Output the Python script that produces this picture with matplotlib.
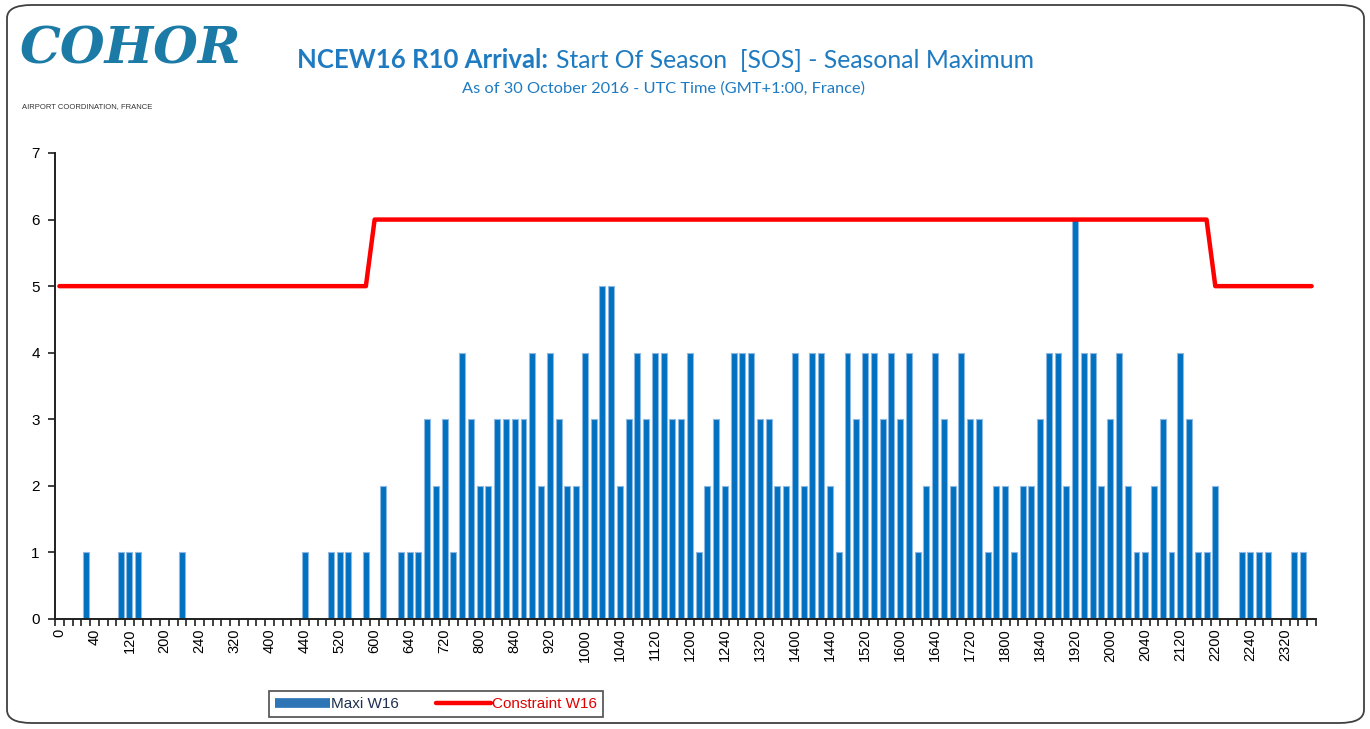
import matplotlib
matplotlib.use("Agg")
import matplotlib.pyplot as plt
from matplotlib.lines import Line2D
from matplotlib.patches import FancyBboxPatch
import numpy as np

# ---- data (one value per 10-minute slot, 00:00 .. 23:50 UTC) ----
maxi_w16 = [
    0, 0, 0, 1, 0, 0, 0, 1, 1, 1, 0, 0, 0, 0, 1, 0, 0, 0, 0, 0, 0, 0, 0, 0,   # 0000-0350
    0, 0, 0, 0, 1, 0, 0, 1, 1, 1, 0, 1, 0, 2, 0, 1, 1, 1, 3, 2, 3, 1, 4, 3,   # 0400-0750
    2, 2, 3, 3, 3, 3, 4, 2, 4, 3, 2, 2, 4, 3, 5, 5, 2, 3, 4, 3, 4, 4, 3, 3,   # 0800-1150
    4, 1, 2, 3, 2, 4, 4, 4, 3, 3, 2, 2, 4, 2, 4, 4, 2, 1, 4, 3, 4, 4, 3, 4,   # 1200-1550
    3, 4, 1, 2, 4, 3, 2, 4, 3, 3, 1, 2, 2, 1, 2, 2, 3, 4, 4, 2, 6, 4, 4, 2,   # 1600-1950
    3, 4, 2, 1, 1, 2, 3, 1, 4, 3, 1, 1, 2, 0, 0, 1, 1, 1, 1, 0, 0, 1, 1, 0,   # 2000-2350
]
constraint_w16 = [5] * 36 + [6] * 96 + [5] * 12

tick_labels = [
    "0", "40", "120", "200", "240", "320", "400", "440", "520", "600",
    "640", "720", "800", "840", "920", "1000", "1040", "1120", "1200", "1240",
    "1320", "1400", "1440", "1520", "1600", "1640", "1720", "1800", "1840", "1920",
    "2000", "2040", "2120", "2200", "2240", "2320",
]
y_ticks = [0, 1, 2, 3, 4, 5, 6, 7]

series_names = ["Maxi W16", "Constraint W16"]
title_bold = "NCEW16 R10 Arrival:"
title_rest = "Start Of Season  [SOS] - Seasonal Maximum"
subtitle = "As of 30 October 2016 - UTC Time (GMT+1:00, France)"

# ---- figure ----
W, H = 1370, 729
fig = plt.figure(figsize=(W / 100, H / 100), dpi=100)
fig.patch.set_facecolor("white")

# rounded outer frame
frame = FancyBboxPatch((7 / W, 6 / H), (1364 - 7) / W, (724 - 6) / H,
                       boxstyle="round,pad=0,rounding_size=0.018",
                       transform=fig.transFigure, fill=False,
                       edgecolor="#404040", linewidth=1.3)
fig.patches.append(frame)

ax = fig.add_axes([55 / W, 1 - 619 / H, (1316 - 55) / W, (619 - 153) / H])

n = len(maxi_w16)
x = np.arange(n)
bar_blue = "#0070C0"
ax.bar(x, maxi_w16, width=0.68, color=bar_blue, edgecolor="#8db8e2",
       linewidth=0.8, zorder=2)
ax.plot(x, constraint_w16, color="#FF0000", linewidth=3.2,
        solid_capstyle="round", solid_joinstyle="round", zorder=3)

ax.set_xlim(-0.5, n - 0.5)
ax.set_ylim(0, 7)
ax.set_yticks(y_ticks)
ax.set_yticklabels([str(v) for v in y_ticks], fontsize=11,
                   family="Liberation Sans")

label_pos = np.arange(0, n, 4)
ax.set_xticks(label_pos)
ax.set_xticklabels(tick_labels, rotation=90, fontsize=10.5,
                   family="Liberation Sans")
ax.set_xticks(np.arange(-0.5, n, 1), minor=True)
ax.tick_params(axis="x", which="major", length=0, pad=7)
ax.tick_params(axis="x", which="minor", length=5, width=1.2, color="#202020",
               direction="out")
ax.tick_params(axis="y", length=5, width=1.2, color="#202020", pad=6)

for s in ["top", "right"]:
    ax.spines[s].set_visible(False)
for s in ["left", "bottom"]:
    ax.spines[s].set_linewidth(1.4)
    ax.spines[s].set_color("#202020")

# ---- titles ----
title_blue = "#1F7BC1"
fig.text(548 / W, 1 - 60 / H, title_bold, ha="right", va="center",
         fontsize=18.5, fontweight="bold", color=title_blue, family="Lato")
fig.text(556 / W, 1 - 60 / H, title_rest, ha="left", va="center",
         fontsize=17.8, color=title_blue, family="Lato")
fig.text(664 / W, 1 - 89 / H, subtitle, ha="center", va="center",
         fontsize=11.8, color=title_blue, family="Lato")

# ---- logo ----
fig.text(20 / W, 1 - 50 / H, "COHOR", ha="left", va="center",
         fontsize=37, fontstyle="italic", fontweight="bold",
         color="#1B7BA6", family="DejaVu Serif")
fig.text(22 / W, 1 - 107 / H, "AIRPORT COORDINATION, FRANCE", ha="left",
         va="center", fontsize=5.5, color="#333333", family="Liberation Sans")

# ---- legend ----
handles = [
    Line2D([], [], color="#2E75B6", linewidth=7, solid_capstyle="butt"),
    Line2D([], [], color="#FF0000", linewidth=3.2, solid_capstyle="round"),
]
leg = fig.legend(handles, series_names, loc="center",
                 bbox_to_anchor=(436 / W, 1 - 704 / H), ncol=2,
                 frameon=True, fancybox=False, edgecolor="#202020",
                 handlelength=3.6, handletextpad=0.1,
                 columnspacing=2.4, borderpad=0.4, borderaxespad=0,
                 prop={"family": "Liberation Sans", "size": 11})
leg.get_frame().set_linewidth(1.2)
for t, c in zip(leg.get_texts(), ["#1F2F4F", "#E00000"]):
    t.set_color(c)

fig.savefig("out.png", dpi=100, facecolor="white")
